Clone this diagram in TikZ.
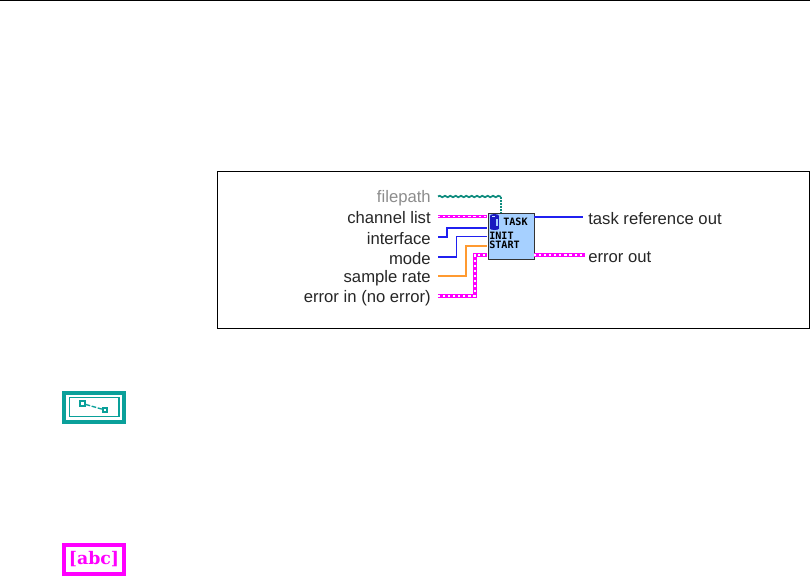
\documentclass[tikz,border=0pt]{standalone}
\usepackage{fontspec}
\setmainfont{Liberation Sans}
\newfontfamily\iconfont{DejaVu Sans Mono}
\usetikzlibrary{decorations.pathmorphing}
\definecolor{wteal}{HTML}{0F8C7E}
\definecolor{wpink}{HTML}{FF00FF}
\definecolor{wblue}{HTML}{2020F0}
\definecolor{worange}{HTML}{FF9A30}
\definecolor{vifill}{HTML}{A6D0FF}
\definecolor{icteal}{HTML}{0AA09A}
\tikzset{
  x=0.75pt,y=-0.75pt,
  lab/.style={anchor=east,inner sep=0pt,font=\fontsize{12.5pt}{14pt}\selectfont,text=black!85},
  rlab/.style={anchor=west,inner sep=0pt,font=\fontsize{12.5pt}{14pt}\selectfont,text=black!85},
  bluew/.style={draw=wblue,line width=1.1pt},
  orangew/.style={draw=worange,line width=1.1pt},
  pinkbase/.style={draw=wpink,line width=2.6pt},
  pinkdots/.style={draw=white,line width=0.8pt,dash pattern=on 1.6pt off 2.2pt},
  tealw/.style={draw=wteal,line width=1.3pt,decorate,decoration={snake,amplitude=0.55pt,segment length=4pt}},
  itext/.style={inner sep=0pt,font=\iconfont\bfseries\fontsize{7.6pt}{8pt}\selectfont,text=black},
  iconbox/.style={line width=2.9pt,fill=white,inner sep=0pt,minimum width=60*0.75pt,minimum height=29*0.75pt,anchor=center},
  pt/.style={draw=icteal,line width=1.3pt,fill=white,inner sep=0pt,minimum size=3.4pt},
}
\begin{document}
\begin{tikzpicture}
\useasboundingbox (0,0) rectangle (810,576);
\fill[black] (0,0) rectangle (810,1.2);
\node[draw=black,line width=0.6pt,inner sep=0pt,minimum width=592*0.75pt,minimum height=157*0.75pt,anchor=north west] (frame) at (217,171) {};

% labels
\node[lab,text=black!45] (lfile) at (431,198.5) {filepath};
\node[lab] (lchan) at (431,218) {channel list};
\node[lab] (lif) at (431,238.5) {interface};
\node[lab] (lmode) at (431,258.5) {mode};
\node[lab] (lrate) at (431,278) {sample rate};
\node[lab] (lerr) at (431,298) {error in (no error)};
\node[rlab] (ltask) at (588,218.5) {task reference out};
\node[rlab] (lout) at (588,257) {error out};

% wire ends
\coordinate (a1) at (438,196.5);
\coordinate (a2) at (438,216.7);
\coordinate (a3) at (438,237);
\coordinate (a4) at (438,257);
\coordinate (a5) at (438,276);
\coordinate (a6) at (438,296);
\coordinate (b1) at (583,217);
\coordinate (b2) at (585,255);

% VI box
\node[draw=black!80,line width=1pt,fill=vifill,minimum width=46*0.75pt,minimum height=46*0.75pt,inner sep=0pt,anchor=north west] (vi) at (487.5,212.5) {};
\coordinate (c1) at (501,212);
\coordinate (c2) at (487,216.7);
\coordinate (c3) at (487,228);
\coordinate (c4) at (487,236.5);
\coordinate (c5) at (487,246);
\coordinate (c6) at (487,255);
\coordinate (d1) at (534,217);
\coordinate (d2) at (534,255);

% wires
\draw[tealw] (a1) -- (a1 -| c1);
\draw[draw=wteal,line width=2pt,dash pattern=on 1.5pt off 0.8pt] (a1 -| c1) -- (c1);
\draw[pinkbase] (a2) -- (c2);
\draw[pinkdots] (a2) -- (c2);
\draw[bluew] (a3) -- (447,237) -- (447,228) -- (c3);
\draw[bluew] (a4) -- (456.5,257) -- (456.5,236.5) -- (c4);
\draw[orangew] (a5) -- (466,276) -- (466,246) -- (c5);
\draw[wpink,line width=3.2pt] (a6) -- (475,296) -- (475,255) -- (c6);
\draw[pinkdots] (a6) -- (475,296) -- (475,255) -- (c6);
\draw[bluew] (d1) -- (b1);
\draw[wpink,line width=3pt] (d2) -- (b2);
\draw[pinkdots] (d2) -- (b2);

% VI icon contents
\node[itext,anchor=west] (ttask) at (503,221.5) {TASK};
\node[itext,anchor=west] (tinit) at (489,235.5) {INIT};
\node[itext,anchor=west] (tstart) at (489,244.5) {START};
\fill[wblue!80!black] (490,216) rectangle (499,228.5);
\fill[wblue!80!black] (494.5,216) ellipse [x radius=4.5,y radius=2];
\fill[wblue!80!black] (494.5,228.5) ellipse [x radius=4.5,y radius=1.5];
\fill[vifill] (495.5,218.5) rectangle (497.5,226);
\fill[vifill!60!white] (491.5,216) rectangle (495,217);

% teal icon
\node[iconbox,draw=icteal] (ic1) at (94,407.5) {};
\node[draw=icteal,line width=1pt,inner sep=0pt,minimum width=49.5*0.75pt,minimum height=19*0.75pt] (ic1b) at (94.2,407) {};
\node[pt] (p1) at (82.5,403.5) {};
\node[pt] (p2) at (105,410) {};
\draw[icteal,line width=1pt,dash pattern=on 3.5pt off 1.2pt] (p1) -- (p2);

% string icon
\node[iconbox,draw=wpink] (ic2) at (94,559.5) {\textcolor{wpink}{\fontspec{DejaVu Serif}\bfseries\fontsize{13pt}{13pt}\selectfont [abc]}};
\end{tikzpicture}
\end{document}
